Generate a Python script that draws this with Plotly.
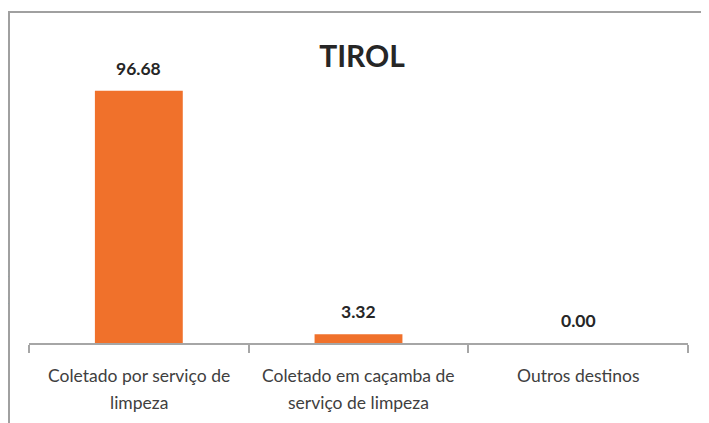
import plotly.graph_objects as go

categories = ["Coletado por serviço de limpeza", "Coletado em caçamba de serviço de limpeza", "Outros destinos"]
label_lines = [["Coletado por serviço de", "limpeza"], ["Coletado em caçamba de", "serviço de limpeza"], ["Outros destinos"]]
values = [96.68, 3.32, 0.00]
title = "TIROL"

# the page body has an 8px margin, so figure pixel = page pixel - 8
OFF = 8
W, H = 709, 423
L, R, T, B = 29 - OFF, W - (688 - OFF), 30 - OFF, H - (343 - OFF)
pw, ph = W - L - R, H - T - B
y_axis_px = 343 - OFF

fig = go.Figure()
fig.add_trace(go.Bar(x=categories, y=values, marker=dict(color="#F0712B", line=dict(width=0)),
                     hoverinfo="skip"))

ann = []
for c, v in zip(categories, values):
    ann.append(dict(x=c, y=v, xref="x", yref="y", text=f"<b>{v:.2f}</b>", showarrow=False,
                    yanchor="bottom", yshift=10, font=dict(family="Lato", size=17.5, color="#262626")))
for c, lines in zip(categories, label_lines):
    for i, ln in enumerate(lines):
        ann.append(dict(x=c, y=0, xref="x", yref="y", text=ln, showarrow=False, yanchor="middle",
                        yshift=-(32 + 27 * i), font=dict(family="Lato", size=17.5, color="#404040")))
# clipped fragments of neighbouring text at the left edge
for txt, py in [("ic", 271), ("tc", 298)]:
    ann.append(dict(x=(3 - L) / pw, y=(y_axis_px - (py - OFF)) / ph, xref="paper", yref="paper", text=txt,
                    showarrow=False, xanchor="right", yanchor="middle",
                    font=dict(family="Lato", size=16, color="#404040")))

fig.update_layout(
    width=W, height=H, margin=dict(l=L, r=R, t=T, b=B),
    paper_bgcolor="white", plot_bgcolor="white",
    bargap=0.6, showlegend=False,
    title=dict(text=f"<b>{title}</b>", x=(362 - OFF) / W, xanchor="center", y=1 - (56 - OFF) / H,
               yanchor="middle", font=dict(family="Lato", size=30, color="#262626")),
    xaxis=dict(showticklabels=False, showline=True, linecolor="#A6A6A6", linewidth=2,
               ticks="outside", tickson="boundaries", ticklen=8, tickwidth=2, tickcolor="#A6A6A6",
               showgrid=False, zeroline=False),
    yaxis=dict(range=[0, 120], visible=False, showgrid=False, zeroline=False),
    annotations=ann,
    shapes=[dict(type="rect", xref="paper", yref="paper",
                 x0=(1 - L) / pw, x1=(707 - OFF - L) / pw, y0=-0.5, y1=(y_axis_px - (12 - OFF)) / ph,
                 line=dict(color="#A0A0A0", width=2), layer="above")],
)
fig.write_html("out.html")
